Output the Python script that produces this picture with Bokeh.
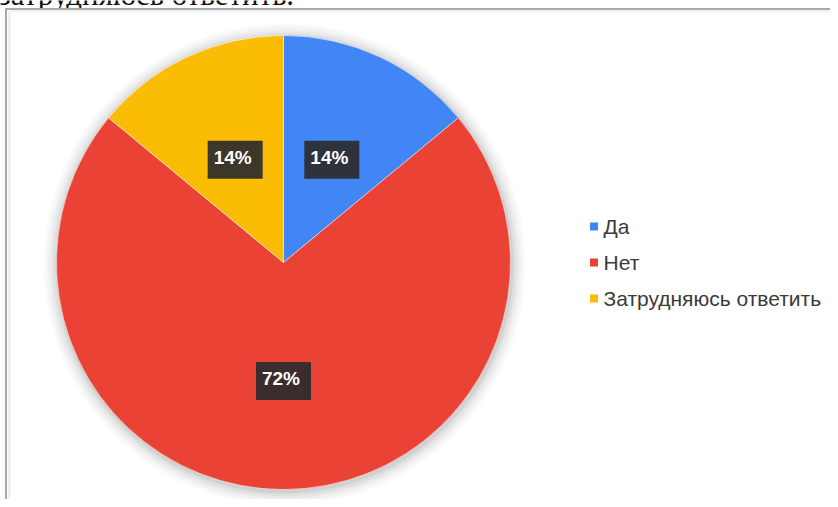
import math
from bokeh.plotting import figure
from bokeh.models import Range1d, ColumnDataSource
from bokeh.core.properties import value
from bokeh.embed import file_html
from bokeh.resources import INLINE

# Data
categories = ["Да", "Нет", "Затрудняюсь ответить"]
shares = [14, 72, 14]
colors = ["#4285F4", "#EA4335", "#FBBC04"]
pct_labels = ["14%", "72%", "14%"]
caption = "затрудняюсь ответить."

W, H = 830, 499
p = figure(width=W, height=H, output_backend="svg", toolbar_location=None,
           x_range=Range1d(0, W), y_range=Range1d(0, H), min_border=0)
p.axis.visible = False
p.grid.visible = False
p.outline_line_color = None
p.background_fill_color = "white"
p.border_fill_color = "white"

def Y(py):
    return H - py

# cut-off caption above the frame (only its lower edge shows, as in the source)
p.text(x=[-2], y=[Y(-6)], text=[caption], text_font=value("Liberation Serif"),
       text_font_size="31px", text_color="#111111", text_baseline="alphabetic")

# frame (top + left edges) with faint inner shadow
p.segment(x0=[9, 9], y0=[Y(10.5), Y(10.5)], x1=[W, 9], y1=[Y(10.5), 0],
          line_color="#f1f1f1", line_width=3)
p.segment(x0=[5, 5.5], y0=[Y(8.5), Y(8)], x1=[W, 5.5], y1=[Y(8.5), 0],
          line_color="#a8a8a8", line_width=2)

cx, cy, R = 283, Y(262), 227

# soft shadow
for i, a in enumerate([0.05, 0.04, 0.03, 0.025, 0.02, 0.015]):
    p.circle(x=[cx + 1], y=[cy - 2], radius=R + 2 + i * 2.5, fill_color="#000000",
             fill_alpha=a, line_color=None)

total = sum(shares)
starts, ends, mids = [], [], []
acc = 0.0
for s in shares:
    a0 = math.pi / 2 - 2 * math.pi * acc / total
    acc += s
    a1 = math.pi / 2 - 2 * math.pi * acc / total
    starts.append(a0)
    ends.append(a1)
    mids.append((a0 + a1) / 2)

src = ColumnDataSource(dict(start=starts, end=ends, color=colors))
p.wedge(x=cx, y=cy, radius=R, start_angle="start", end_angle="end",
        direction="clock", fill_color="color", line_color="white", line_width=0.5,
        source=src)

lr = 0.5 * R
lx = [cx + lr * math.cos(m) for m in mids]
ly = [cy + lr * math.sin(m) - (5 if abs(math.sin(m)) > 0.99 else 0) for m in mids]
p.text(x=lx, y=ly, text=pct_labels, text_font=value("Liberation Sans"),
       text_font_style="bold", text_font_size="19px", text_color="white",
       text_align="center", text_baseline="middle",
       background_fill_color="#2b2b2b", background_fill_alpha=0.92,
       padding=[6, 11, 6, 11])

# legend
lgx = 593.5
lgy = [Y(226), Y(262), Y(298)]
p.scatter(x=[lgx] * 3, y=lgy, marker="square", size=8, fill_color=colors, line_color=None)
p.text(x=[lgx + 9.5] * 3, y=lgy, text=categories, text_font=value("Liberation Sans"),
       text_font_size="21px", text_color="#3a3a3a", text_baseline="middle")

open("out.html", "w").write(file_html(p, INLINE))
